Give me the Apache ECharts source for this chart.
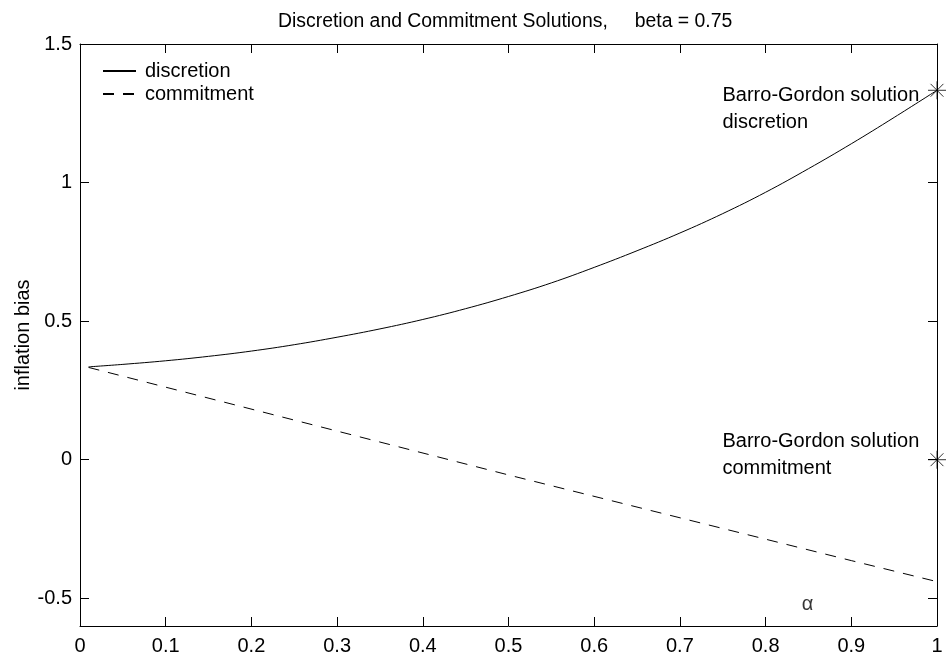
<!DOCTYPE html>
<html><head><meta charset="utf-8">
<script src="https://cdn.jsdelivr.net/npm/echarts@6/dist/echarts.min.js"></script>
<style>html,body{margin:0;padding:0;background:#fff}#c{width:947px;height:656px}</style>
</head><body><div id="c"></div>
<script>
// alpha grid and values
const alphaDisc = [0.01, 0.05, 0.1, 0.15, 0.2, 0.25, 0.3, 0.35, 0.4, 0.45, 0.5, 0.55, 0.6, 0.65, 0.7, 0.75, 0.8, 0.85, 0.9, 0.95, 1.0];
const discretion = [0.335, 0.344, 0.357, 0.373, 0.392, 0.415, 0.442, 0.472, 0.506, 0.545, 0.589, 0.638, 0.694, 0.754, 0.818, 0.888, 0.965, 1.05, 1.14, 1.235, 1.333];
const alphaComm = [0.01, 0.5, 0.9, 1.0];
const commitment = [0.333, -0.055, -0.364, -0.44];
const yTicks = [-0.5, 0, 0.5, 1, 1.5];
const bgX = [1, 1];
const bgY = [1.333, 0];
const bgLabels = ['Barro-Gordon solution\ndiscretion', 'Barro-Gordon solution\ncommitment'];
const alphaPos = [0.849, -0.523];

const FONT = 'Liberation Sans, Arial, Helvetica, sans-serif';
const FS = 20;
const chart = echarts.init(document.getElementById('c'), null, {renderer: 'canvas'});
const asterisk = 'path://M8,0L8,16M0,8L16,8M2.3,2.3L13.7,13.7M2.3,13.7L13.7,2.3';

const boxAxisCommon = {
  axisLine: {show: true, onZero: false, lineStyle: {color: '#000', width: 1}},
  axisTick: {show: true, inside: true, length: 9, lineStyle: {color: '#000', width: 1}},
  splitLine: {show: false}
};

chart.setOption({
  animation: false,
  backgroundColor: '#fff',
  textStyle: {fontFamily: FONT},
  title: {
    text: 'Discretion and Commitment Solutions,     beta = 0.75',
    left: 278, top: 12, padding: 0,
    textStyle: {fontFamily: FONT, fontSize: 19.4, fontWeight: 'normal', color: '#000'}
  },
  legend: {
    data: ['discretion', 'commitment'],
    orient: 'vertical',
    left: 102, top: 61, padding: 0,
    itemWidth: 33, itemHeight: 14, itemGap: 3,
    itemStyle: {opacity: 0},
    textStyle: {fontFamily: FONT, fontSize: FS, color: '#000', padding: [0, 0, 0, 4], lineHeight: 20}
  },
  grid: {left: 80, right: 10, top: 44, bottom: 30, containLabel: false},
  xAxis: [
    Object.assign({
      type: 'value', min: 0, max: 1, interval: 0.1, position: 'bottom',
      axisLabel: {show: true, color: '#000', fontSize: FS, fontFamily: FONT, margin: 10}
    }, boxAxisCommon),
    Object.assign({
      type: 'value', min: 0, max: 1, interval: 0.1, position: 'top',
      axisLabel: {show: false}
    }, boxAxisCommon)
  ],
  yAxis: [
    Object.assign({}, boxAxisCommon, {
      type: 'value', min: -0.6, max: 1.5, position: 'left',
      name: 'inflation bias', nameLocation: 'middle', nameGap: 47, nameRotate: 90,
      nameMoveOverlap: false,
      nameTextStyle: {color: '#000', fontSize: FS, fontFamily: FONT},
      axisTick: {show: true, inside: true, length: 9, customValues: yTicks, lineStyle: {color: '#000', width: 1}},
      axisLabel: {show: true, color: '#000', fontSize: FS, fontFamily: FONT, margin: 8, customValues: yTicks}
    }),
    Object.assign({}, boxAxisCommon, {
      type: 'value', min: -0.6, max: 1.5, position: 'right',
      axisTick: {show: true, inside: true, length: 9, customValues: yTicks, lineStyle: {color: '#000', width: 1}},
      axisLabel: {show: false}
    })
  ],
  series: [
    {
      name: 'discretion', type: 'line', symbol: 'none', smooth: 0.4,
      data: alphaDisc.map((a, i) => [a, discretion[i]]),
      lineStyle: {color: '#000', width: 1, type: 'solid'},
      itemStyle: {color: '#000'}
    },
    {
      name: 'commitment', type: 'line', symbol: 'none',
      data: alphaComm.map((a, i) => [a, commitment[i]]),
      lineStyle: {color: '#000', width: 1, type: [11, 9]},
      itemStyle: {color: '#000'}
    },
    {
      name: 'Barro-Gordon', type: 'scatter', symbol: asterisk, symbolSize: 18,
      itemStyle: {color: 'rgba(0,0,0,0)', borderColor: '#000', borderWidth: 1},
      data: bgX.map((x, i) => ({
        value: [x, bgY[i]],
        label: {
          show: true, formatter: bgLabels[i],
          position: i === 0 ? [-205, 1] : [-205, -22],
          align: 'left', verticalAlign: 'top',
          fontSize: FS, fontFamily: FONT, color: '#000', lineHeight: 27, opacity: 1
        }
      })),
      z: 5
    },
    {
      name: 'alpha', type: 'scatter', symbol: 'circle', symbolSize: 1,
      itemStyle: {color: 'rgba(0,0,0,0)'},
      data: [alphaPos],
      label: {show: true, position: 'inside', formatter: 'α', fontSize: FS, fontFamily: FONT, color: '#000'}
    }
  ]
});
</script>
</body></html>
